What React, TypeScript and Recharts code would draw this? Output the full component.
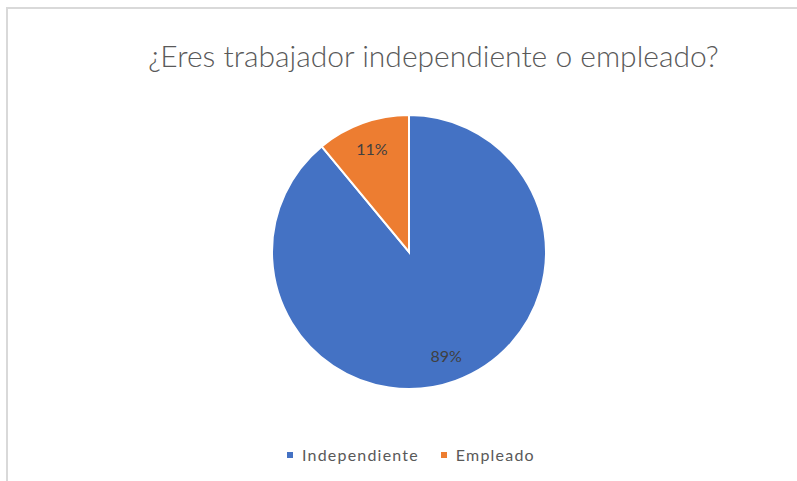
import React from 'react';
import { PieChart, Pie, Cell, Legend } from 'recharts';

const categories = ['Independiente', 'Empleado'];
const values = [89, 11];
const colors = ['#4472C4', '#ED7D31'];
const title = '¿Eres trabajador independiente o empleado?';

const data = categories.map((name, i) => ({ name, value: values[i] }));

const RAD = Math.PI / 180;
const renderLabel = (props: any) => {
  const { cx, cy, midAngle, outerRadius, percent } = props;
  const r = outerRadius * 0.8;
  const x = cx + r * Math.cos(-midAngle * RAD);
  const y = cy + r * Math.sin(-midAngle * RAD);
  return (
    <text x={x} y={y} fill="#404040" textAnchor="middle" dominantBaseline="central"
      style={{ fontFamily: 'Lato, "Open Sans", sans-serif', fontSize: 16 }}>
      {`${Math.round(percent * 100)}%`}
    </text>
  );
};

const renderLegend = () => (
  <div style={{ display: 'flex', alignItems: 'center', fontFamily: 'Lato, sans-serif', fontSize: 16, color: '#595959', letterSpacing: 1.2 }}>
    {categories.map((c, i) => (
      <div key={c} style={{ display: 'flex', alignItems: 'center', marginRight: i === 0 ? 22 : 0 }}>
        <span style={{ display: 'inline-block', width: 6, height: 6, background: colors[i], marginRight: 9 }} />
        <span>{c}</span>
      </div>
    ))}
  </div>
);

export default function App() {
  return (
    <div style={{ position: 'absolute', left: 0, top: 0, width: 797, height: 481, background: '#fff', overflow: 'hidden' }}>
      <div style={{ position: 'absolute', left: 6, top: 7, right: -2, bottom: -2, borderLeft: '2px solid #d9d9d9', borderTop: '2px solid #d9d9d9' }} />
      <div style={{ position: 'absolute', left: 0, width: 867, top: 37, textAlign: 'center', fontFamily: 'Lato, "Open Sans", sans-serif', fontWeight: 300, fontSize: 30, color: '#595959', whiteSpace: 'nowrap' }}>
        {title}
      </div>
      <div style={{ position: 'absolute', left: 0, top: 0 }}>
        <PieChart width={797} height={481} margin={{ top: 0, right: 0, bottom: 0, left: 0 }}>
          <Pie data={data} dataKey="value" nameKey="name" cx={409} cy={252} outerRadius={137}
            startAngle={90} endAngle={-270} stroke="#ffffff" strokeWidth={2}
            label={renderLabel} labelLine={false} isAnimationActive={false}>
            {data.map((d, i) => <Cell key={d.name} fill={colors[i]} />)}
          </Pie>
          <Legend content={renderLegend} wrapperStyle={{ position: 'absolute', left: 287, top: 445, width: 'auto' }} />
        </PieChart>
      </div>
    </div>
  );
}
